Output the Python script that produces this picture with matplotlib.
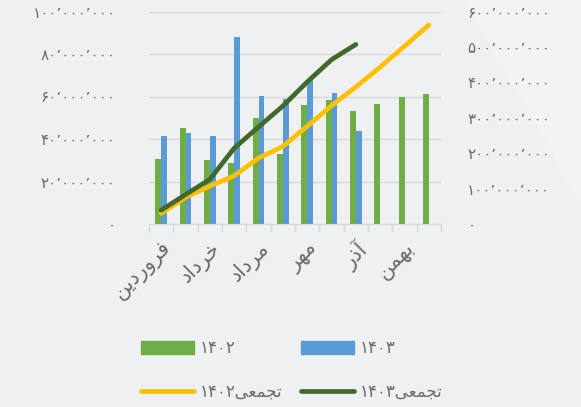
import matplotlib
matplotlib.use("Agg")
import matplotlib.pyplot as plt
from matplotlib.lines import Line2D
from matplotlib.patches import Patch, Polygon
from matplotlib.ticker import FuncFormatter, MultipleLocator

# monthly sales (million rials) and running totals
months = ["فروردین", "اردیبهشت", "خرداد", "تیر", "مرداد", "شهریور",
          "مهر", "آبان", "آذر", "دی", "بهمن", "اسفند"]
sales_1402 = [30.7, 45.0, 30.2, 28.9, 49.7, 33.0, 55.8, 58.5, 53.4, 56.5, 59.9, 61.3]
sales_1403 = [41.5, 43.0, 41.5, 88.0, 60.4, 59.0, 67.8, 61.6, 43.9]
cum_1402 = [30, 75, 107, 136, 186, 219, 276, 334, 387, 443, 502, 562]
cum_1403 = [39, 83, 126, 214, 274, 333, 401, 464, 507]

C_1402 = "#70ad47"
C_1403 = "#5b9bd5"
C_CUM2 = "#ffc000"
C_CUM3 = "#43682b"
TXT = "#6b6b6b"
BG = "#eff0f2"

FA_DIGITS = str.maketrans("0123456789,", "۰۱۲۳۴۵۶۷۸۹٬")

# presentation forms: isolated, final, initial, medial (2 entries = right-joining only)
FORMS = {
    "ا": ("\uFE8D", "\uFE8E"), "آ": ("\uFE81", "\uFE82"),
    "د": ("\uFEA9", "\uFEAA"), "ذ": ("\uFEAB", "\uFEAC"),
    "ر": ("\uFEAD", "\uFEAE"), "و": ("\uFEED", "\uFEEE"),
    "ب": ("\uFE8F", "\uFE90", "\uFE91", "\uFE92"),
    "ت": ("\uFE95", "\uFE96", "\uFE97", "\uFE98"),
    "ج": ("\uFE9D", "\uFE9E", "\uFE9F", "\uFEA0"),
    "خ": ("\uFEA5", "\uFEA6", "\uFEA7", "\uFEA8"),
    "س": ("\uFEB1", "\uFEB2", "\uFEB3", "\uFEB4"),
    "ش": ("\uFEB5", "\uFEB6", "\uFEB7", "\uFEB8"),
    "ع": ("\uFEC9", "\uFECA", "\uFECB", "\uFECC"),
    "ف": ("\uFED1", "\uFED2", "\uFED3", "\uFED4"),
    "م": ("\uFEE1", "\uFEE2", "\uFEE3", "\uFEE4"),
    "ن": ("\uFEE5", "\uFEE6", "\uFEE7", "\uFEE8"),
    "ه": ("\uFEE9", "\uFEEA", "\uFEEB", "\uFEEC"),
    "ی": ("\uFEEF", "\uFEF0", "\uFEF3", "\uFEF4"),
}


def shape(word):
    out = []
    for i, c in enumerate(word):
        f = FORMS[c]
        prev_joins = i > 0 and len(FORMS[word[i - 1]]) == 4
        next_joins = i + 1 < len(word) and len(f) == 4
        if prev_joins and next_joins:
            g = f[3]
        elif prev_joins:
            g = f[1]
        elif next_joins:
            g = f[2]
        else:
            g = f[0]
        out.append(g)
    return "".join(reversed(out))


def fa_num(v):
    return f"{int(round(v * 1e6)):,}".translate(FA_DIGITS)


plt.rcParams["font.family"] = "DejaVu Sans"

fig = plt.figure(figsize=(5.81, 4.07), dpi=100, facecolor=BG)
fig.patches.append(Polygon([(465 / 581, 1), (1, 1), (1, 1 - 205 / 407)],
                           closed=True, transform=fig.transFigure,
                           facecolor="#f2f3f5", edgecolor="none", zorder=-1))

ax = fig.add_axes([149 / 581, 1 - 224 / 407, 292 / 581, (224 - 11.5) / 407])
ax.set_facecolor("none")

x = list(range(len(months)))
w = 0.24
ax.bar([i - w / 2 for i in range(len(sales_1402))], sales_1402, width=w,
       color=C_1402, zorder=2)
ax.bar([i + w / 2 for i in range(len(sales_1403))], sales_1403, width=w,
       color=C_1403, zorder=2)

ax.set_xlim(-0.5, 11.5)
ax.set_ylim(0, 100)
ax.yaxis.set_major_locator(MultipleLocator(20))
ax.yaxis.set_major_formatter(FuncFormatter(lambda v, p: fa_num(v)))
ax.grid(axis="y", color="#d9d9d9", linewidth=1, zorder=0)
ax.tick_params(axis="y", length=0, pad=24, labelsize=11, labelcolor=TXT)

# category boundaries as tick marks, names every other month
ax.set_xticks([i - 0.5 for i in range(13)])
ax.set_xticklabels([])
ax.tick_params(axis="x", which="major", length=6, color="#d9d9d9", width=1)
ax.set_xticks(x[::2], minor=True)
ax.set_xticklabels([shape(m) for m in months[::2]], minor=True,
                   rotation=45, ha="right", va="top", rotation_mode="anchor")
ax.tick_params(axis="x", which="minor", length=0, pad=10, labelsize=15,
               labelcolor=TXT)

for s in ("top", "right", "left"):
    ax.spines[s].set_visible(False)
ax.spines["bottom"].set_color("#d9d9d9")

ax2 = ax.twinx()
ax2.set_ylim(0, 600)
ax2.yaxis.set_major_locator(MultipleLocator(100))
ax2.yaxis.set_major_formatter(FuncFormatter(lambda v, p: fa_num(v)))
ax2.tick_params(axis="y", length=0, pad=19, labelsize=11, labelcolor=TXT)
for s in ax2.spines.values():
    s.set_visible(False)

ax2.plot(x[:len(cum_1402)], cum_1402, color=C_CUM2, lw=3.4,
         solid_capstyle="round", solid_joinstyle="round", zorder=3)
ax2.plot(x[:len(cum_1403)], cum_1403, color=C_CUM3, lw=3.4,
         solid_capstyle="round", solid_joinstyle="round", zorder=4)

word = shape("تجمعی")
handles = [
    Patch(color=C_1402), Line2D([], [], color=C_CUM2, lw=3.4, solid_capstyle="round"),
    Patch(color=C_1403), Line2D([], [], color=C_CUM3, lw=3.4, solid_capstyle="round"),
]
labels = [
    "1402".translate(FA_DIGITS), "1402".translate(FA_DIGITS) + word,
    "1403".translate(FA_DIGITS), "1403".translate(FA_DIGITS) + word,
]
fig.legend(handles, labels, ncol=2, loc="upper left",
           bbox_to_anchor=(126 / 581, 1 - 324 / 407), frameon=False,
           fontsize=12, labelcolor=TXT, handlelength=3.2, handleheight=0.8,
           handletextpad=0.3, columnspacing=1.15, labelspacing=1.55)

fig.savefig("out.png", dpi=100, facecolor=BG)
